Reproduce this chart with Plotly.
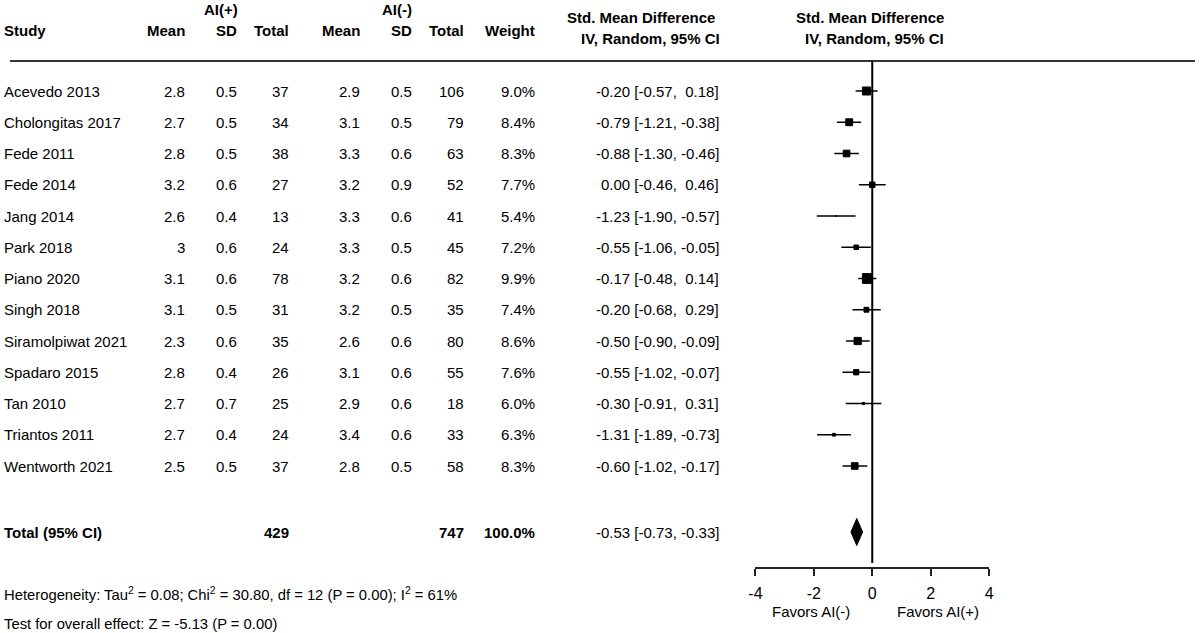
import plotly.graph_objects as go

# ---------------- data ----------------
studies = ["Acevedo 2013", "Cholongitas 2017", "Fede 2011", "Fede 2014", "Jang 2014",
           "Park 2018", "Piano 2020", "Singh 2018", "Siramolpiwat 2021", "Spadaro 2015",
           "Tan 2010", "Triantos 2011", "Wentworth 2021"]
mean_pos = [2.8, 2.7, 2.8, 3.2, 2.6, 3, 3.1, 3.1, 2.3, 2.8, 2.7, 2.7, 2.5]
sd_pos = [0.5, 0.5, 0.5, 0.6, 0.4, 0.6, 0.6, 0.5, 0.6, 0.4, 0.7, 0.4, 0.5]
n_pos = [37, 34, 38, 27, 13, 24, 78, 31, 35, 26, 25, 24, 37]
mean_neg = [2.9, 3.1, 3.3, 3.2, 3.3, 3.3, 3.2, 3.2, 2.6, 3.1, 2.9, 3.4, 2.8]
sd_neg = [0.5, 0.5, 0.6, 0.9, 0.6, 0.5, 0.6, 0.5, 0.6, 0.6, 0.6, 0.6, 0.5]
n_neg = [106, 79, 63, 52, 41, 45, 82, 35, 80, 55, 18, 33, 58]
weights = [9.0, 8.4, 8.3, 7.7, 5.4, 7.2, 9.9, 7.4, 8.6, 7.6, 6.0, 6.3, 8.3]
smd = [-0.20, -0.79, -0.88, 0.00, -1.23, -0.55, -0.17, -0.20, -0.50, -0.55, -0.30, -1.31, -0.60]
ci_lo = [-0.57, -1.21, -1.30, -0.46, -1.90, -1.06, -0.48, -0.68, -0.90, -1.02, -0.91, -1.89, -1.02]
ci_hi = [0.18, -0.38, -0.46, 0.46, -0.57, -0.05, 0.14, 0.29, -0.09, -0.07, 0.31, -0.73, -0.17]
total_pos = 429
total_neg = 747
total_weight = 100.0
pooled_smd = -0.53
pooled_lo = -0.73
pooled_hi = -0.33
het_tau2 = 0.08
het_chi2 = 30.80
het_df = 12
het_p = 0.00
het_i2 = 61
z_value = -5.13
z_p = 0.00
x_ticks = [-4, -2, 0, 2, 4]
group_pos = "AI(+)"
group_neg = "AI(-)"

# ---------------- layout helpers ----------------
W, H = 1200, 633
ROW0, ROWH = 91.0, 31.25
FONT = "Liberation Sans, Arial, sans-serif"
FS = 15


def px(x):
    return x / W


def py(y):
    return 1 - y / H


def row_of(pixel_y):
    return (pixel_y - ROW0) / ROWH


total_row = row_of(532)
NBSP = "\u00a0"
LEFT = -5


def ci_text(e, lo, hi):
    def f(v):
        s = f"{v:.2f}"
        return (NBSP + s) if v >= 0 else s
    return f"{e:.2f} [{lo:.2f},{NBSP}{f(hi)}]"


fig = go.Figure()

# CI lines + squares (square size scaled from study weight)
sizes = [max(1.0, 1 + 1.95 * (w - 5.4)) for w in weights]
rows = list(range(len(studies)))
fig.add_trace(go.Scatter(
    x=smd, y=rows, mode="markers",
    marker=dict(symbol="square", size=sizes, color="#000000", opacity=1,
                line=dict(width=1, color="#000000")),
    error_x=dict(type="data", symmetric=False,
                 array=[h - e for h, e in zip(ci_hi, smd)],
                 arrayminus=[e - l for e, l in zip(smd, ci_lo)],
                 thickness=1.6, width=0, color="black"),
    hoverinfo="skip", showlegend=False))

# pooled diamond
hh = 13.5 / ROWH
fig.add_trace(go.Scatter(
    x=[pooled_lo, pooled_smd, pooled_hi, pooled_smd, pooled_lo],
    y=[total_row, total_row - hh, total_row, total_row + hh, total_row],
    mode="lines", fill="toself", fillcolor="black",
    line=dict(color="black", width=1), hoverinfo="skip", showlegend=False))

ann = []


def add(text, x, y, xanchor="right", yref="y", bold=False, size=FS):
    ann.append(dict(text=f"<b>{text}</b>" if bold else text, x=px(x), xref="paper",
                    y=y, yref=yref, xanchor=xanchor, yanchor="middle",
                    showarrow=False, font=dict(family=FONT, size=size, color="black")))


# headers
add(group_pos, 216, py(9), "center", "paper", True)
add(group_neg, 394, py(9), "center", "paper", True)
add("Study", LEFT, py(30), "left", "paper", True)
for t, x in [("Mean", 182), ("SD", 234), ("Total", 287), ("Mean", 359), ("SD", 411),
             ("Total", 464), ("Weight", 535)]:
    add(t, x, py(30), "right", "paper", True)
add("Std. Mean Difference", 717, py(18), "right", "paper", True)
add("IV, Random, 95% CI", 722, py(39), "right", "paper", True)
add("Std. Mean Difference", 872, py(18), "center", "paper", True)
add("IV, Random, 95% CI", 876, py(39), "center", "paper", True)

# study rows
for i, s in enumerate(studies):
    add(s, LEFT, i, "left")
    add(f"{mean_pos[i]:g}", 182, i)
    add(f"{sd_pos[i]:g}", 234, i)
    add(str(n_pos[i]), 287, i)
    add(f"{mean_neg[i]:g}", 359, i)
    add(f"{sd_neg[i]:g}", 411, i)
    add(str(n_neg[i]), 464, i)
    add(f"{weights[i]:.1f}%", 535, i)
    add(ci_text(smd[i], ci_lo[i], ci_hi[i]), 721, i)

# total row
add("Total (95% CI)", LEFT, total_row, "left", bold=True)
add(str(total_pos), 287, total_row, bold=True)
add(str(total_neg), 464, total_row, bold=True)
add(f"{total_weight:.1f}%", 535, total_row, bold=True)
add(ci_text(pooled_smd, pooled_lo, pooled_hi), 721, total_row)

# footer
add(f"Heterogeneity: Tau<sup>2</sup> = {het_tau2:.2f}; Chi<sup>2</sup> = {het_chi2:.2f}, "
    f"df = {het_df} (P = {het_p:.2f}); I<sup>2</sup> = {het_i2}%", LEFT, py(594), "left", "paper",
    size=14.8)
add(f"Test for overall effect: Z = {z_value:.2f} (P = {z_p:.2f})", LEFT, py(624), "left", "paper",
    size=14.8)

# favours labels
add(f"Favors {group_neg}", 812, py(611), "center", "paper")
add(f"Favors {group_pos}", 940, py(611), "center", "paper")

shapes = [
    dict(type="line", xref="paper", yref="paper", x0=px(3), x1=1, y0=py(61), y1=py(61),
         line=dict(color="#333", width=2)),
    dict(type="line", xref="x", yref="paper", x0=0, x1=0, y0=py(563), y1=py(61),
         line=dict(color="black", width=2)),
]

fig.update_layout(
    width=W, height=H, margin=dict(l=0, r=0, t=0, b=0),
    paper_bgcolor="white", plot_bgcolor="white",
    annotations=ann, shapes=shapes, showlegend=False,
    xaxis=dict(domain=[px(756), px(992)], range=[-4, 4], autorange=False,
               tickvals=x_ticks, ticktext=[str(t) for t in x_ticks],
               ticks="outside", ticklen=7, tickwidth=2, tickcolor="#222",
               ticklabelstandoff=4,
               showline=True, linewidth=2, linecolor="#222",
               showgrid=False, zeroline=False, anchor="free", position=py(568),
               tickfont=dict(family=FONT, size=16, color="black")),
    yaxis=dict(domain=[0, 1], range=[(H - ROW0) / ROWH, -ROW0 / ROWH], autorange=False,
               visible=False, showgrid=False, zeroline=False),
)

fig.write_html("out.html", config={"displayModeBar": False},
               post_script="document.body.style.margin='0';")
